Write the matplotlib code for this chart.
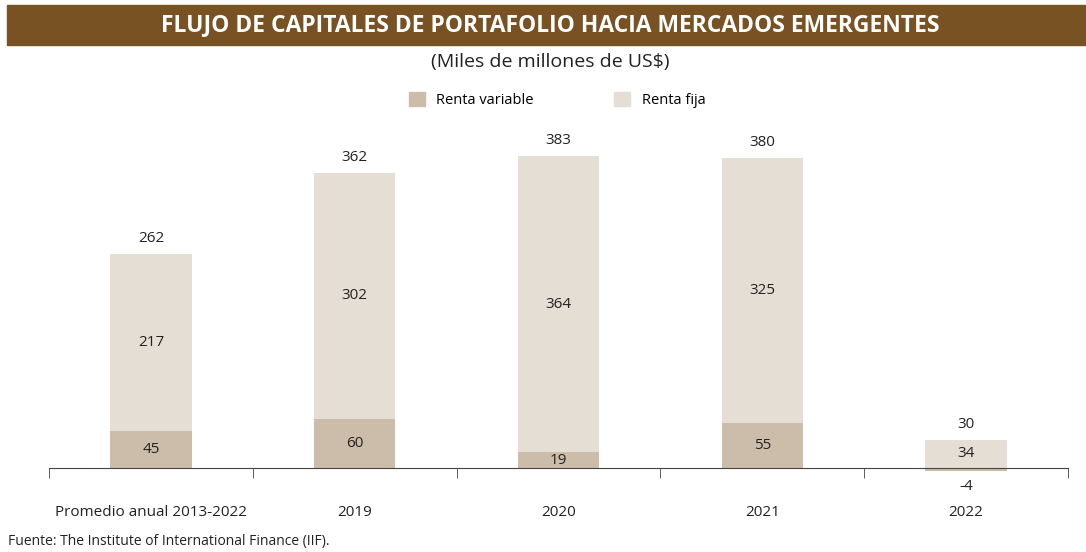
import numpy as np
import matplotlib.pyplot as plt
from matplotlib.patches import Rectangle, Patch

plt.rcParams['font.family'] = ['Open Sans', 'DejaVu Sans']

# Datos
categorias = ["Promedio anual 2013-2022", "2019", "2020", "2021", "2022"]
renta_variable = [45, 60, 19, 55, -4]
renta_fija = [217, 302, 364, 325, 34]
totales = [262, 362, 383, 380, 30]

COLOR_TITULO = '#785222'
COLOR_VARIABLE = '#CBBDA9'
COLOR_FIJA = '#E5DED4'

fig = plt.figure(figsize=(10.86, 5.52), dpi=100)

# Banda del titulo
fig.patches.append(Rectangle((7 / 1086, 1 - 45 / 552), 1079 / 1086, 40 / 552,
                             transform=fig.transFigure, color=COLOR_TITULO, zorder=0))
fig.text(0.507, 1 - 25 / 552, "FLUJO DE CAPITALES DE PORTAFOLIO HACIA MERCADOS EMERGENTES",
         ha='center', va='center', color='white', fontsize=16.5, fontweight='bold')
fig.text(0.507, 1 - 62 / 552, "(Miles de millones de US$)", ha='center', va='center',
         fontsize=14, color='#222222')

ax = fig.add_axes([49 / 1086, 1 - 480 / 552, 1019 / 1086, 360 / 552])
x = np.arange(len(categorias))
ancho = 0.4

# la renta fija empieza donde termina la variable (si es positiva)
base_fija = [max(v, 0) for v in renta_variable]
ax.bar(x, renta_variable, ancho, color=COLOR_VARIABLE, zorder=2)
ax.bar(x, renta_fija, ancho, bottom=base_fija, color=COLOR_FIJA, zorder=2)

for i in range(len(categorias)):
    v = renta_variable[i]
    f = renta_fija[i]
    if v >= 0:
        ax.text(x[i], v / 2, str(v), ha='center', va='center', fontsize=11, color='#222222')
    else:
        ax.annotate(str(v), (x[i], v), xytext=(0, -6), textcoords='offset points',
                    ha='center', va='top', fontsize=11, color='#222222')
    ax.text(x[i], base_fija[i] + f / 2, str(f), ha='center', va='center', fontsize=11, color='#222222')
    ax.annotate(str(totales[i]), (x[i], base_fija[i] + f), xytext=(0, 6), textcoords='offset points',
                ha='center', va='bottom', fontsize=11, color='#222222')

ax.set_xlim(-0.5, len(categorias) - 0.5)
ax.set_ylim(-15, 427)
ax.set_yticks([])
for lado in ['left', 'right', 'top']:
    ax.spines[lado].set_visible(False)
ax.spines['bottom'].set_position(('data', 0))
ax.spines['bottom'].set_color('#444444')
ax.spines['bottom'].set_zorder(3)

ax.set_xticks(x)
ax.set_xticklabels(categorias, fontsize=11, color='#222222')
ax.tick_params(axis='x', which='major', length=0, pad=27)
ax.set_xticks(np.arange(-0.5, len(categorias)), minor=True)
ax.tick_params(axis='x', which='minor', length=7, color='#444444', direction='out')

# Leyenda
handles = [Patch(color=COLOR_VARIABLE, label='Renta variable'),
           Patch(color=COLOR_FIJA, label='Renta fija')]
fig.legend(handles=handles, loc='center', bbox_to_anchor=(0.513, 1 - 100 / 552), ncol=2,
           frameon=False, fontsize=10.5, handlelength=1.1, handleheight=1.1,
           columnspacing=5.5, handletextpad=0.8)

fig.text(8 / 1086, 1 - 541 / 552, "Fuente: The Institute of International Finance (IIF).",
         ha='left', va='center', fontsize=10, color='#222222')

plt.savefig('out.png', dpi=100)
